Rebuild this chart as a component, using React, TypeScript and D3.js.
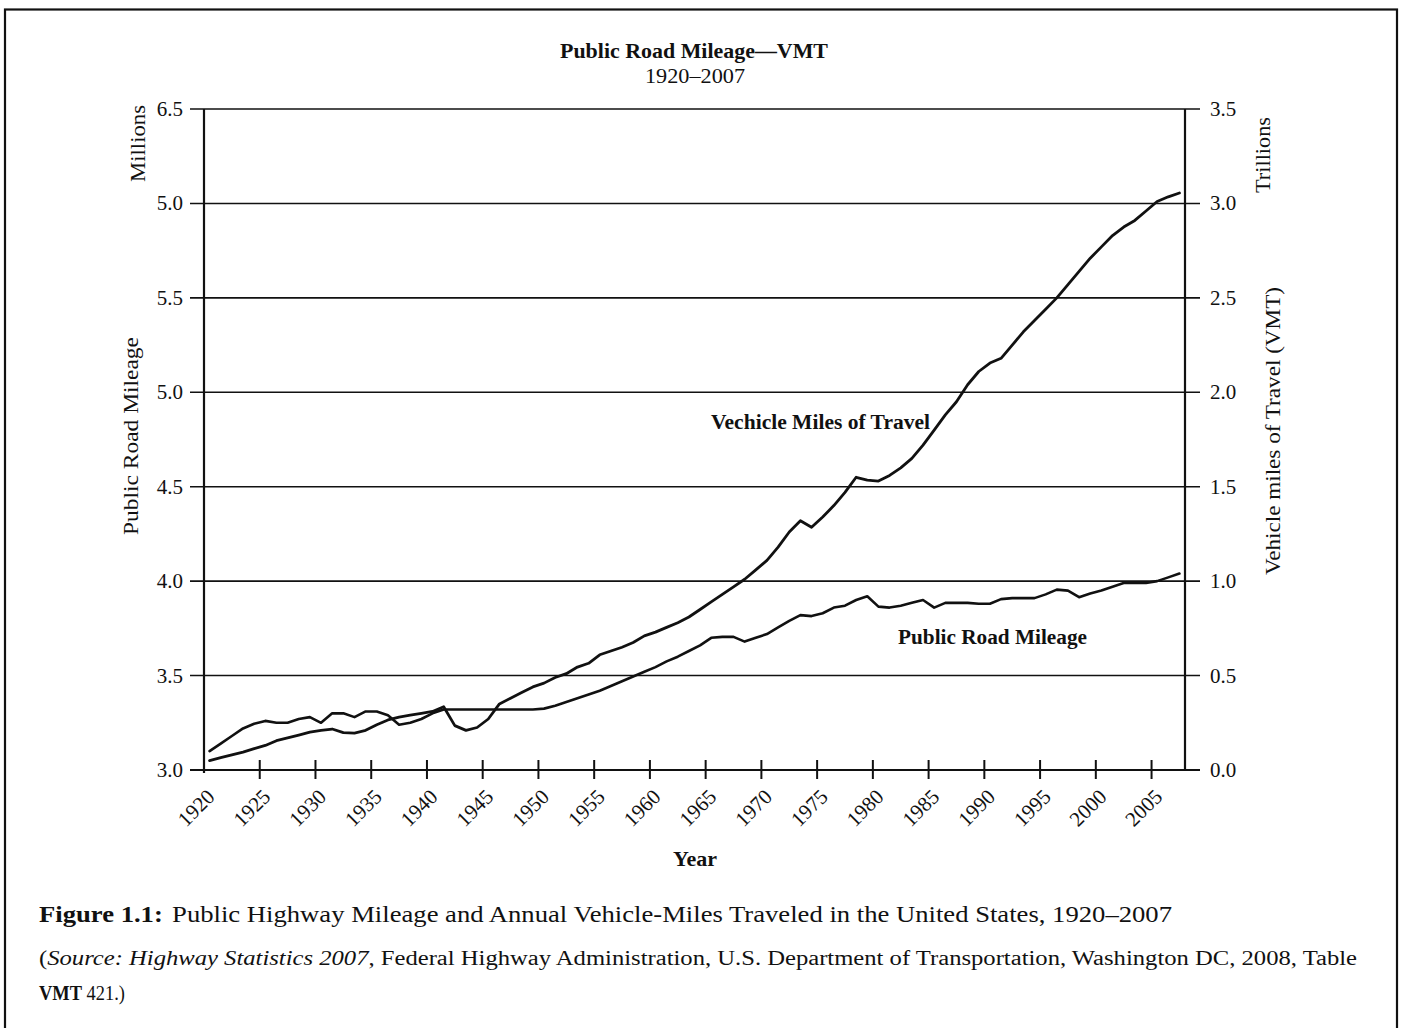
import React from "react";
import * as d3 from "d3";

const years: number[] = d3.range(1920, 2008);

// Public road mileage, millions (1920–2007)
const roadMileage: number[] = [
  3.10, 3.14, 3.18, 3.22, 3.245, 3.26, 3.25, 3.25, 3.27, 3.28,
  3.25, 3.30, 3.30, 3.28, 3.31, 3.31, 3.29, 3.24, 3.25, 3.27,
  3.30, 3.32, 3.32, 3.32, 3.32, 3.32, 3.32, 3.32, 3.32, 3.32,
  3.325, 3.34, 3.36, 3.38, 3.40, 3.42, 3.445, 3.47, 3.495, 3.52,
  3.545, 3.575, 3.60, 3.63, 3.66, 3.70, 3.705, 3.705, 3.68, 3.70,
  3.72, 3.755, 3.79, 3.82, 3.815, 3.83, 3.86, 3.87, 3.90, 3.92,
  3.865, 3.86, 3.87, 3.885, 3.90, 3.86, 3.885, 3.885, 3.885, 3.88,
  3.88, 3.905, 3.91, 3.91, 3.91, 3.93, 3.955, 3.95, 3.915, 3.935,
  3.95, 3.97, 3.99, 3.99, 3.99, 4.00, 4.02, 4.04,
];

// Vehicle miles of travel, trillions (1920–2007)
const vmt: number[] = [
  0.05, 0.065, 0.08, 0.095, 0.113, 0.13, 0.155, 0.17, 0.185, 0.20,
  0.21, 0.217, 0.198, 0.195, 0.21, 0.24, 0.265, 0.28, 0.29, 0.30,
  0.31, 0.335, 0.235, 0.21, 0.225, 0.27, 0.35, 0.38, 0.41, 0.44,
  0.46, 0.49, 0.51, 0.545, 0.565, 0.61, 0.63, 0.65, 0.675, 0.71,
  0.73, 0.755, 0.78, 0.81, 0.85, 0.89, 0.93, 0.97, 1.01, 1.06,
  1.11, 1.18, 1.26, 1.32, 1.285, 1.34, 1.40, 1.47, 1.55, 1.535,
  1.53, 1.56, 1.60, 1.65, 1.72, 1.80, 1.88, 1.95, 2.04, 2.11,
  2.155, 2.18, 2.25, 2.32, 2.38, 2.44, 2.50, 2.57, 2.64, 2.71,
  2.77, 2.83, 2.875, 2.91, 2.96, 3.01, 3.035, 3.055,
];

const leftTickValues: number[] = [3.0, 3.5, 4.0, 4.5, 5.0, 5.5, 6.0, 6.5];
const leftTickLabels: string[] = ["3.0", "3.5", "4.0", "4.5", "5.0", "5.5", "5.0", "6.5"];
const rightTickValues: number[] = [0, 0.5, 1.0, 1.5, 2.0, 2.5, 3.0, 3.5];
const rightTickLabels: string[] = ["0.0", "0.5", "1.0", "1.5", "2.0", "2.5", "3.0", "3.5"];
const xTickYears: number[] = [1920, 1925, 1930, 1935, 1940, 1945, 1950, 1955, 1960, 1965, 1970, 1975, 1980, 1985, 1990, 1995, 2000, 2005];

const FONT = "'Liberation Serif', 'Times New Roman', serif";

export default function App() {
  const left = 204, right = 1185, top = 109, bottom = 770;
  const x = d3.scaleLinear().domain([1919.5, 2007.5]).range([left, right]);
  const yL = d3.scaleLinear().domain([3.0, 6.5]).range([bottom, top]);
  const yR = d3.scaleLinear().domain([0, 3.5]).range([bottom, top]);

  const roadLine = d3.line<number>().x((_, i) => x(years[i])).y((d) => yL(d));
  const vmtLine = d3.line<number>().x((_, i) => x(years[i])).y((d) => yR(d));

  const adj = "spacingAndGlyphs";

  return (
    <svg
      width={1405}
      height={1028}
      style={{ position: "absolute", left: 0, top: 0, background: "#fff" }}
      fontFamily={FONT}
    >
      <rect x={0} y={0} width={1405} height={1028} fill="#fff" />
      {/* outer frame */}
      <rect x={5} y={9.5} width={1392} height={1040} fill="none" stroke="#111" strokeWidth={2.2} />

      {/* title */}
      <text x={560} y={58} fontSize={21} fontWeight="bold" fill="#111" textLength={268} lengthAdjust={adj}>
        Public Road Mileage—VMT
      </text>
      <text x={645} y={83} fontSize={21} fill="#111" textLength={100} lengthAdjust={adj}>
        1920–2007
      </text>

      {/* horizontal grid lines */}
      {leftTickValues.map((v, i) => (
        <line key={"g" + i} x1={190} x2={1200} y1={yL(v)} y2={yL(v)} stroke="#111" strokeWidth={1.6} />
      ))}

      {/* axes */}
      <line x1={left} x2={left} y1={top} y2={bottom + 3} stroke="#111" strokeWidth={2.2} />
      <line x1={right} x2={right} y1={top} y2={bottom + 1} stroke="#111" strokeWidth={2.2} />
      <line x1={190} x2={1200} y1={bottom} y2={bottom} stroke="#111" strokeWidth={2} />

      {/* left tick labels */}
      {leftTickValues.map((v, i) => (
        <text key={"l" + i} x={183} y={yL(v) + 7} textAnchor="end" fontSize={21} fill="#111">
          {leftTickLabels[i]}
        </text>
      ))}
      {/* right tick labels */}
      {rightTickValues.map((v, i) => (
        <text key={"r" + i} x={1210} y={yR(v) + 7} textAnchor="start" fontSize={21} fill="#111">
          {rightTickLabels[i]}
        </text>
      ))}

      {/* x ticks */}
      {xTickYears.map((yr) => {
        const tx = x(yr - 0.5);
        return (
          <g key={"x" + yr}>
            {yr !== 1920 && <line x1={tx} x2={tx} y1={bottom - 10} y2={bottom + 9} stroke="#111" strokeWidth={2} />}
            <text
              transform={`translate(${tx + 12},${bottom + 28}) rotate(-45)`}
              textAnchor="end"
              fontSize={21}
              fill="#111"
            >
              {yr}
            </text>
          </g>
        );
      })}

      {/* axis titles */}
      <text x={673} y={866} fontSize={21} fontWeight="bold" fill="#111" textLength={44} lengthAdjust={adj}>
        Year
      </text>
      <text transform={`translate(145,182) rotate(-90)`} fontSize={22} fill="#111" textLength={77} lengthAdjust={adj}>
        Millions
      </text>
      <text transform={`translate(138,535) rotate(-90)`} fontSize={22} fill="#111" textLength={198} lengthAdjust={adj}>
        Public Road Mileage
      </text>
      <text transform={`translate(1270,193) rotate(-90)`} fontSize={22} fill="#111" textLength={76} lengthAdjust={adj}>
        Trillions
      </text>
      <text transform={`translate(1280,575) rotate(-90)`} fontSize={22} fill="#111" textLength={288} lengthAdjust={adj}>
        Vehicle miles of Travel (VMT)
      </text>

      {/* data lines */}
      <path d={roadLine(roadMileage) || ""} fill="none" stroke="#111" strokeWidth={2.6} strokeLinejoin="round" strokeLinecap="round" />
      <path d={vmtLine(vmt) || ""} fill="none" stroke="#111" strokeWidth={2.8} strokeLinejoin="round" strokeLinecap="round" />

      {/* annotations */}
      <text x={711} y={429} fontSize={20} fontWeight="bold" fill="#111" textLength={219} lengthAdjust={adj}>
        Vechicle Miles of Travel
      </text>
      <text x={898} y={644} fontSize={20} fontWeight="bold" fill="#111" textLength={189} lengthAdjust={adj}>
        Public Road Mileage
      </text>

      {/* caption */}
      <text x={39} y={922} fontSize={23} fill="#111" textLength={1133} lengthAdjust={adj}>
        <tspan fontWeight="bold">Figure 1.1:</tspan>
        <tspan dx={8}>Public Highway Mileage and Annual Vehicle-Miles Traveled in the United States, 1920–2007</tspan>
      </text>
      <text x={39} y={965} fontSize={20} fill="#111" textLength={1318} lengthAdjust={adj}>
        <tspan>(</tspan>
        <tspan fontStyle="italic">Source: Highway Statistics 2007</tspan>
        <tspan>, Federal Highway Administration, U.S. Department of Transportation, Washington DC, 2008, Table</tspan>
      </text>
      <text x={39} y={1000} fontSize={20} fill="#111" textLength={86} lengthAdjust={adj}>
        <tspan fontWeight="bold">VMT</tspan>
        <tspan> 421.)</tspan>
      </text>
    </svg>
  );
}
